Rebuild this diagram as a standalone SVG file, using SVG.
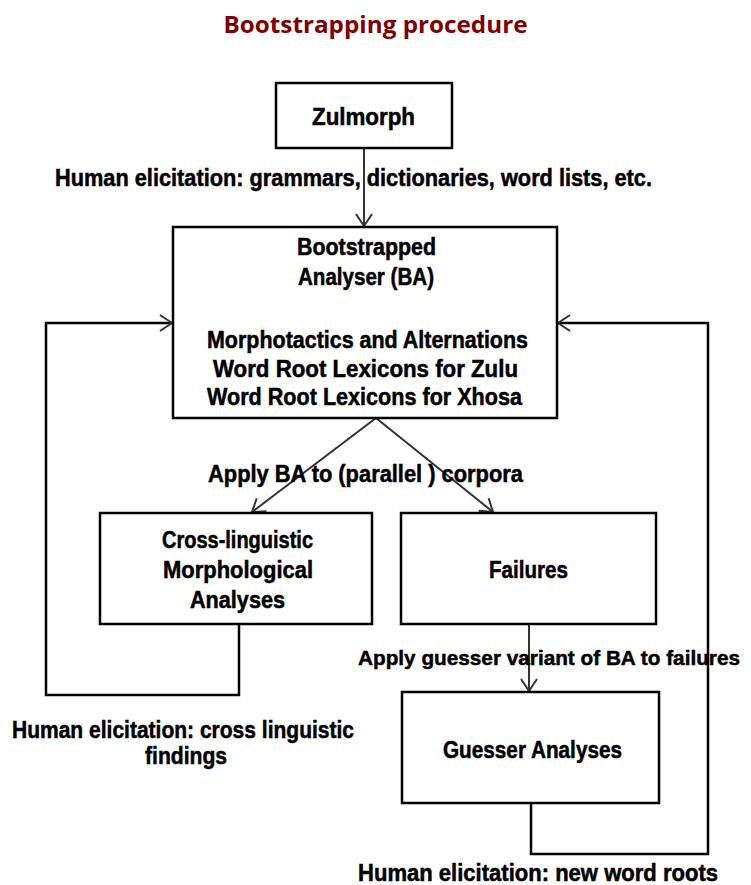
<svg xmlns="http://www.w3.org/2000/svg" width="751" height="885" viewBox="0 0 751 885">
<style>
.box{fill:#fff;stroke:#000;stroke-width:2.5}
.t{font-family:"Liberation Sans",Arial,sans-serif;font-weight:bold;font-size:23px;fill:#000;stroke:#000;stroke-width:0.5;text-anchor:middle}
.title{font-family:"Open Sans","Liberation Sans",sans-serif;font-weight:bold;font-size:23px;fill:#800000;text-anchor:middle}
.c{fill:none;stroke:#333;stroke-width:2}
.loop{fill:none;stroke:#000;stroke-width:2.5}
</style>
<defs>
<marker id="arr" viewBox="0 0 14 18" refX="13" refY="9" markerWidth="14" markerHeight="18" markerUnits="userSpaceOnUse" orient="auto">
<path d="M1,1 L13,9 L1,17" fill="none" stroke="#333" stroke-width="2"/>
</marker>
</defs>
<rect width="751" height="885" fill="#fff"/>
<text class="title" x="375.5" y="33" textLength="304" lengthAdjust="spacingAndGlyphs">Bootstrapping procedure</text>

<g id="connectors">
<line class="c" x1="364" y1="148" x2="364" y2="226" marker-end="url(#arr)"/>
<line class="c" x1="376" y1="418" x2="252" y2="512" marker-end="url(#arr)"/>
<line class="c" x1="376" y1="418" x2="493" y2="512" marker-end="url(#arr)"/>
<line class="c" x1="529" y1="624" x2="529" y2="691" marker-end="url(#arr)"/>
<polyline class="loop" points="239,624 239,695 46,695 46,323 172,323" marker-end="url(#arr)"/>
<polyline class="loop" points="531,803 531,854 708,854 708,323 558,323" marker-end="url(#arr)"/>
</g>

<g id="zulmorph">
<rect class="box" x="276" y="83" width="176" height="65"/>
<text class="t" x="363.5" y="125" textLength="103" lengthAdjust="spacingAndGlyphs">Zulmorph</text>
</g>

<g id="ba">
<rect class="box" x="173" y="227" width="384" height="191"/>
<text class="t" x="366.5" y="255" textLength="139" lengthAdjust="spacingAndGlyphs">Bootstrapped</text>
<text class="t" x="366" y="285" textLength="136" lengthAdjust="spacingAndGlyphs">Analyser (BA)</text>
<text class="t" x="367.5" y="348" textLength="321" lengthAdjust="spacingAndGlyphs">Morphotactics and Alternations</text>
<text class="t" x="365.5" y="377" textLength="305" lengthAdjust="spacingAndGlyphs">Word Root Lexicons  for Zulu</text>
<text class="t" x="364.5" y="405" textLength="315" lengthAdjust="spacingAndGlyphs">Word Root Lexicons  for Xhosa</text>
</g>

<g id="cross">
<rect class="box" x="100" y="513" width="272" height="111"/>
<text class="t" x="237.5" y="548" textLength="151" lengthAdjust="spacingAndGlyphs">Cross-linguistic</text>
<text class="t" x="238" y="578" textLength="150" lengthAdjust="spacingAndGlyphs">Morphological</text>
<text class="t" x="237.5" y="608" textLength="95" lengthAdjust="spacingAndGlyphs">Analyses</text>
</g>

<g id="failures">
<rect class="box" x="401" y="513" width="255" height="111"/>
<text class="t" x="528.5" y="578" textLength="79" lengthAdjust="spacingAndGlyphs">Failures</text>
</g>

<g id="guesser">
<rect class="box" x="402" y="692" width="257" height="111"/>
<text class="t" x="532.5" y="758" textLength="179" lengthAdjust="spacingAndGlyphs">Guesser Analyses</text>
</g>

<g id="labels">
<text class="t" x="353.5" y="186" textLength="597" lengthAdjust="spacingAndGlyphs">Human elicitation:  grammars, dictionaries, word lists, etc.</text>
<text class="t" x="365.5" y="482" textLength="315" lengthAdjust="spacingAndGlyphs">Apply BA to (parallel ) corpora</text>
<text class="t" x="549" y="665" style="font-size:21px" textLength="382" lengthAdjust="spacingAndGlyphs">Apply guesser variant of BA to failures</text>
<text class="t" x="183" y="738" textLength="342" lengthAdjust="spacingAndGlyphs">Human elicitation:  cross linguistic</text>
<text class="t" x="186" y="764" textLength="82" lengthAdjust="spacingAndGlyphs">findings</text>
<text class="t" x="538" y="881" textLength="360" lengthAdjust="spacingAndGlyphs">Human elicitation:  new word roots</text>
</g>
</svg>
